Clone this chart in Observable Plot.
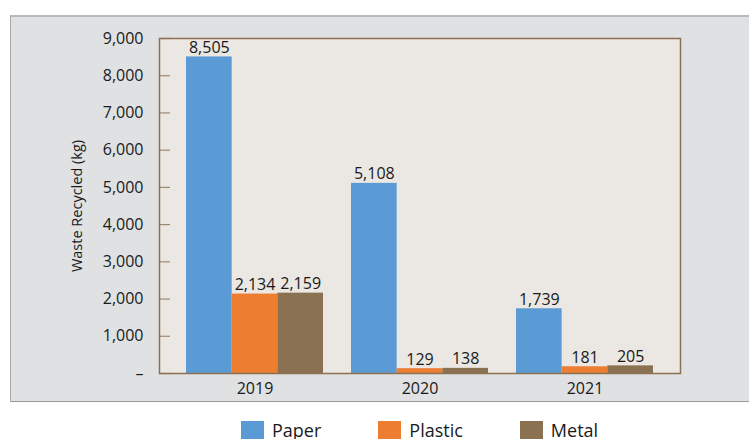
<!DOCTYPE html>
<html>
<head>
<meta charset="utf-8">
<script src="https://cdn.jsdelivr.net/npm/d3@7"></script>
<script src="https://cdn.jsdelivr.net/npm/@observablehq/plot@0.6"></script>
<style>
  html, body { margin: 0; padding: 0; background: #ffffff; width: 749px; height: 439px; overflow: hidden; }
  body { position: relative; font-family: "Open Sans", sans-serif; color: #1a1a1a; }
  #panel { position: absolute; left: 10px; top: 15px; width: 760px; height: 384px;
           background: #e0e1e3; border-top: 2px solid #b8b8b8; border-left: 1.5px solid #a8a8a8; border-bottom: 1.5px solid #999; }
  #chart { position: absolute; left: 0; top: 0; }
  #legend { position: absolute; left: 241px; top: 420px; display: flex; gap: 57px; }
  .item { display: flex; align-items: flex-start; }
  .sw { width: 23px; height: 23px; margin-right: 8px; margin-top: 1px; }
  .lab { font-size: 18px; line-height: 24px; margin-top: -2px; }
  #chart [aria-label="y-axis label"] { font-size: 14.5px; }
</style>
</head>
<body>
<div id="panel"></div>
<div id="chart"></div>
<div id="legend"></div>
<script>
const years = ["2019", "2020", "2021"];
const materials = ["Paper", "Plastic", "Metal"];
const paper = [8505, 5108, 1739];
const plastic = [2134, 129, 181];
const metal = [2159, 138, 205];
const yTicks = [0, 1000, 2000, 3000, 4000, 5000, 6000, 7000, 8000, 9000];
const colors = ["#5b9bd5", "#ed7d31", "#8a7152"];

const series = [paper, plastic, metal];
const data = years.flatMap((yr, i) => materials.map((m, j) => ({year: yr, material: m, value: series[j][i]})));

const W = 749, H = 400, ML = 159, MR = 69, MT = 38, MB = 27;
const fmt = d3.format(",");
const xOpts = {type: "band", domain: years, paddingInner: 0.169, paddingOuter: 0.154, tickSize: 0, tickPadding: 9, label: null};
const yOpts = {domain: [0, 9000], ticks: yTicks, tickSize: 0, tickPadding: 16,
  tickFormat: d => d === 0 ? "\u2013" : fmt(d),
  label: "Waste Recycled (kg)", labelAnchor: "center", labelArrow: "none", labelOffset: 88};

const base = {width: W, height: H, marginLeft: ML, marginRight: MR, marginTop: MT, marginBottom: MB};
const probe = Plot.plot({...base, x: xOpts, y: yOpts, marks: [Plot.barY(data, {x: "year", y: "value"})]});
const bw = probe.scale("x").bandwidth;
const sub = bw / 3;

const marks = [Plot.frame({fill: "#ebe7e2", stroke: null})];
materials.forEach((m, j) => {
  const rows = data.filter(d => d.material === m);
  marks.push(Plot.barY(rows, {x: "year", y: "value", fill: colors[j], insetLeft: j * sub, insetRight: (2 - j) * sub}));
});
marks.push(Plot.tickY(yTicks, {y: d => d, stroke: "#9c8a72", strokeWidth: 1.2, insetRight: (W - ML - MR) - 11}));
materials.forEach((m, j) => {
  const rows = data.filter(d => d.material === m);
  marks.push(Plot.text(rows, {x: "year", y: "value", text: d => fmt(d.value), dx: (j - 1) * sub,
    lineAnchor: "bottom", dy: -4, fontSize: 16, fill: "#1a1a1a"}));
});
marks.push(Plot.frame({stroke: "#8a7152", strokeWidth: 1.5}));

const chart = Plot.plot({
  ...base,
  style: {fontFamily: "Open Sans", fontSize: "16px", color: "#1a1a1a", background: "transparent", overflow: "visible"},
  x: xOpts,
  y: yOpts,
  marks
});
document.getElementById("chart").append(chart);

const legend = document.getElementById("legend");
materials.forEach((m, j) => {
  const it = document.createElement("div");
  it.className = "item";
  it.innerHTML = `<div class="sw" style="background:${colors[j]}"></div><div class="lab">${m}</div>`;
  legend.append(it);
});
</script>
</body>
</html>
